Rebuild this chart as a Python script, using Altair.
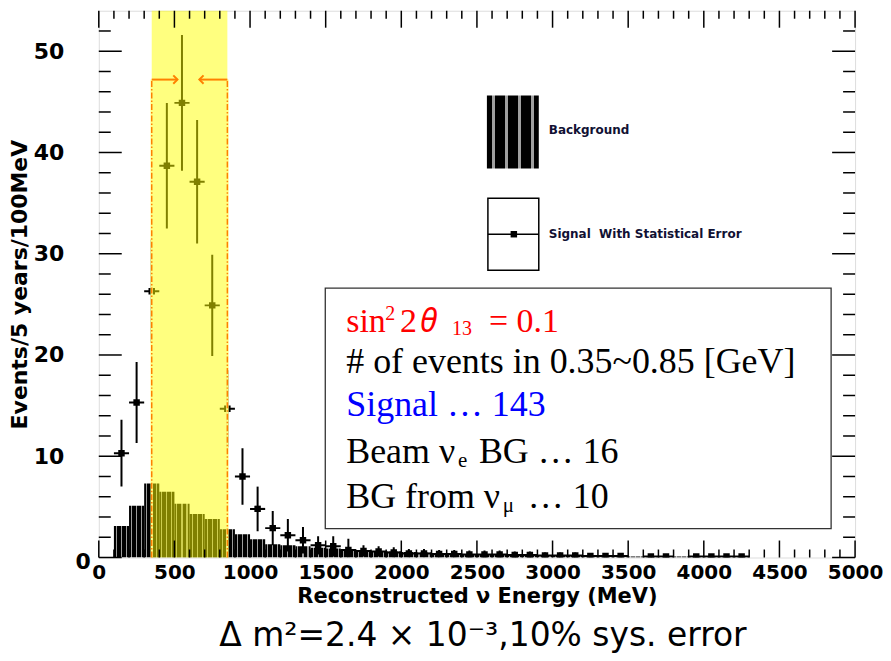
import altair as alt
import pandas as pd

# ---------------- data ----------------
bin_left = [100, 200, 300, 400, 500, 600, 700, 800, 900, 1000, 1100, 1200, 1300, 1400,
            1500, 1600, 1700, 1800, 1900, 2000, 2100, 2200, 2300, 2400, 2500, 2600, 2700,
            2800, 2900, 3000, 3100, 3200, 3300, 3400, 3500, 3600, 3700, 3800, 3900, 4000,
            4100, 4200]
bg_counts = [3.1, 5.1, 7.3, 6.5, 5.3, 4.3, 3.8, 2.8, 2.3, 1.8, 1.3, 1.2, 1.1, 0.95,
             0.9, 0.8, 0.75, 0.65, 0.6, 0.55, 0.5, 0.45, 0.4, 0.35, 0.3, 0.3, 0.25,
             0.25, 0.2, 0.2, 0.2, 0.15, 0.15, 0.15, 0.1, 0.1, 0.1, 0.1, 0.1, 0.1,
             0.1, 0.05]

sig_center = [150, 250, 350, 450, 550, 650, 750, 850, 950, 1050, 1150, 1250, 1350, 1450,
              1550, 1650, 1750, 1850, 1950, 2050, 2150, 2250, 2350, 2450, 2550, 2650,
              2750, 2850, 2950, 3050, 3150, 3250, 3350, 3450, 3650, 3750, 3950, 4050,
              4150, 4250]
sig_counts = [10.3, 15.3, 26.3, 38.7, 44.9, 37.1, 24.9, 14.7, 8.0, 4.8, 2.9, 2.2, 1.7, 1.2,
              1.1, 0.75, 0.65, 0.6, 0.5, 0.4, 0.4, 0.35, 0.35, 0.3, 0.3, 0.3,
              0.25, 0.25, 0.2, 0.2, 0.2, 0.15, 0.15, 0.15, 0.1, 0.1, 0.1, 0.1,
              0.1, 0.1]
sig_err = [3.3, 4.0, 5.1, 6.2, 6.7, 6.1, 5.0, 3.8, 2.8, 2.2, 1.7, 1.6, 1.3, 0.9,
           1.0, 1.1, 0.55, 0.5, 0.5, 0.45, 0.45, 0.4, 0.4, 0.4, 0.4, 0.4,
           0.35, 0.35, 0.3, 0.3, 0.3, 0.3, 0.3, 0.3, 0.25, 0.25, 0.25, 0.25,
           0.25, 0.25]

band_lo, band_hi = 350, 850
arrow_y = 47.2
arrow_tip_left = 520     # arrow pointing right, starting at band_lo
arrow_tip_right = 665    # arrow pointing left, starting at band_hi

x_major = [0, 500, 1000, 1500, 2000, 2500, 3000, 3500, 4000, 4500, 5000]
x_minor = [v for v in range(100, 5000, 100) if v % 500 != 0]
y_labels = [10, 20, 30, 40, 50]
y_major = [0, 10, 20, 30, 40, 50]
y_minor = [v for v in range(2, 54, 2) if v % 10 != 0]

# ---------------- layout ----------------
W, H = 758, 548
XS = alt.Scale(domain=[0, 5000], nice=False, zero=False)
YS = alt.Scale(domain=[0, 54], nice=False)
AXF = "DejaVu Sans"
SERIF = "Liberation Serif"

def stripes(n, frac=0.22, col="#9c9c9c"):
    stops = []
    step = 1.0 / n
    for i in range(n):
        a = i * step
        s0 = a + step * 0.5 - step * frac / 2
        s1 = a + step * 0.5 + step * frac / 2
        stops += [alt.GradientStop(color="#000000", offset=a),
                  alt.GradientStop(color="#000000", offset=s0),
                  alt.GradientStop(color=col, offset=s0),
                  alt.GradientStop(color=col, offset=s1),
                  alt.GradientStop(color="#000000", offset=s1)]
    stops.append(alt.GradientStop(color="#000000", offset=1))
    return alt.Gradient(gradient="linear", x1=0, x2=1, y1=0, y2=0, stops=stops)

bg_df = pd.DataFrame({"lo": bin_left, "hi": [b + 100 for b in bin_left],
                      "n": bg_counts, "zero": [0] * len(bin_left)})
sig_df = pd.DataFrame({"c": sig_center, "n": sig_counts, "e": sig_err})
sig_df["lo"] = (sig_df["n"] - sig_df["e"]).clip(lower=0)
sig_df["hi"] = sig_df["n"] + sig_df["e"]
sig_df["xl"] = sig_df["c"] - 50
sig_df["xr"] = sig_df["c"] + 50

xaxis = alt.Axis(values=x_major, ticks=False, domain=False, grid=False,
                 labelFont=AXF, labelFontWeight="bold", labelFontSize=20,
                 labelColor="black", labelPadding=5, labelFlush=False, labelOverlap=False,
                 format="d",
                 title="Reconstructed ν Energy (MeV)", titleFont=AXF, titleFontWeight="bold",
                 titleFontSize=21, titleColor="black", titlePadding=3)
yaxis = alt.Axis(values=y_labels, ticks=False, domain=False, grid=False,
                 labelFont=AXF, labelFontWeight="bold", labelFontSize=22,
                 labelColor="black", labelPadding=35, labelFlush=False, labelOverlap=False,
                 title="Events/5 years/100MeV", titleFont=AXF, titleFontWeight="bold",
                 titleFontSize=22, titleColor="black", titlePadding=2)

bars = alt.Chart(bg_df).mark_rect(fill=stripes(3), clip=True).encode(
    x=alt.X("lo:Q", scale=XS, axis=xaxis),
    x2="hi:Q",
    y=alt.Y("n:Q", scale=YS, axis=yaxis),
    y2="zero:Q",
)

sig = alt.Chart(sig_df)
vbar = sig.mark_rule(color="black", strokeWidth=2, clip=True).encode(
    x=alt.X("c:Q", scale=XS), y=alt.Y("lo:Q", scale=YS), y2="hi:Q")
hbar = sig.mark_rule(color="black", strokeWidth=2, clip=True).encode(
    x=alt.X("xl:Q", scale=XS), x2="xr:Q", y=alt.Y("n:Q", scale=YS))
pts = sig.mark_square(color="black", size=42, opacity=1, clip=True).encode(
    x=alt.X("c:Q", scale=XS), y=alt.Y("n:Q", scale=YS))

band_df = pd.DataFrame({"a": [band_lo], "b": [band_hi], "y0": [0], "y1": [54]})
band = alt.Chart(band_df).mark_rect(color="#ffff00", opacity=0.5).encode(
    x=alt.X("a:Q", scale=XS), x2="b:Q", y=alt.Y("y0:Q", scale=YS), y2="y1:Q")

edge_df = pd.DataFrame({"x": [band_lo, band_hi], "y0": [0, 0], "y1": [arrow_y, arrow_y]})
edge_cover = alt.Chart(edge_df).mark_rule(color="#ffff80", strokeWidth=2.5).encode(
    x=alt.X("x:Q", scale=XS), y=alt.Y("y0:Q", scale=YS), y2="y1:Q")
edges = alt.Chart(edge_df).mark_rule(color="#ff8000", strokeWidth=1.5,
                                      strokeDash=[6, 2, 1.5, 2]).encode(
    x=alt.X("x:Q", scale=XS), y=alt.Y("y0:Q", scale=YS), y2="y1:Q")

arr_df = pd.DataFrame({"x0": [band_lo, band_hi], "x1": [arrow_tip_left, arrow_tip_right],
                       "y": [arrow_y, arrow_y]})
arr_lines = alt.Chart(arr_df).mark_rule(color="#ff8000", strokeWidth=2).encode(
    x=alt.X("x0:Q", scale=XS), x2="x1:Q", y=alt.Y("y:Q", scale=YS))
head_r = alt.Chart(pd.DataFrame({"x": [arrow_tip_left], "y": [arrow_y]})).mark_point(
    shape="M -1 -1 L 0 0 L -1 1", filled=False, color="#ff8000", strokeWidth=2, size=70,
    opacity=1).encode(x=alt.X("x:Q", scale=XS), y=alt.Y("y:Q", scale=YS))
head_l = alt.Chart(pd.DataFrame({"x": [arrow_tip_right], "y": [arrow_y]})).mark_point(
    shape="M 1 -1 L 0 0 L 1 1", filled=False, color="#ff8000", strokeWidth=2, size=70,
    opacity=1).encode(x=alt.X("x:Q", scale=XS), y=alt.Y("y:Q", scale=YS))

# ticks (ROOT style: inside, mirrored)
def xticks(vals, length):
    d = alt.Chart(pd.DataFrame({"v": vals}))
    bot = d.mark_rule(color="black", strokeWidth=1.5).encode(
        x=alt.X("v:Q", scale=XS), y=alt.value(H), y2=alt.value(H - length))
    top = d.mark_rule(color="black", strokeWidth=1.5).encode(
        x=alt.X("v:Q", scale=XS), y=alt.value(0), y2=alt.value(length))
    return [bot, top]

def yticks(vals, length):
    d = alt.Chart(pd.DataFrame({"v": vals}))
    left = d.mark_rule(color="black", strokeWidth=1.5).encode(
        y=alt.Y("v:Q", scale=YS), x=alt.value(0), x2=alt.value(length))
    right = d.mark_rule(color="black", strokeWidth=1.5).encode(
        y=alt.Y("v:Q", scale=YS), x=alt.value(W), x2=alt.value(W - length))
    return [left, right]

ticks = xticks(x_major, 17) + xticks(x_minor, 8) + yticks(y_major, 23) + yticks(y_minor, 12)

one = alt.Data(values=[{}])

def txt(s, x, y, size, color="black", font=SERIF, weight="normal", align="left",
        baseline="alphabetic", style="normal"):
    return alt.Chart(one).mark_text(text=s, font=font, fontSize=size, color=color,
                                    fontWeight=weight, align=align, baseline=baseline,
                                    fontStyle=style).encode(
        x=alt.value(x), y=alt.value(y))

def box(x0, x1, y0, y1, fill="white", stroke="black", sw=1.5):
    return alt.Chart(one).mark_rect(fill=fill, stroke=stroke, strokeWidth=sw).encode(
        x=alt.value(x0), x2=alt.value(x1), y=alt.value(y0), y2=alt.value(y1))

# legend
leg_bg = alt.Chart(one).mark_rect(fill=stripes(4, 0.2, "#a0a0a0")).encode(
    x=alt.value(389), x2=alt.value(441), y=alt.value(85), y2=alt.value(158))
leg_sig_box = box(390, 441, 188, 260)
leg_sig_line = alt.Chart(one).mark_rule(color="black", strokeWidth=1.5).encode(
    x=alt.value(390), x2=alt.value(441), y=alt.value(224))
leg_sig_pt = alt.Chart(one).mark_square(color="black", size=42, opacity=1).encode(
    x=alt.value(416), y=alt.value(224))
leg_t1 = txt("Background", 451, 120, 12, color="#111133", font=AXF, weight="bold",
             baseline="middle")
leg_t2 = txt("Signal\u00a0 With Statistical Error", 451, 224, 12, color="#111133", font=AXF,
             weight="bold", baseline="middle")

# info box
info_box = box(227, 734, 278, 519, fill="white", stroke="#333333", sw=1.3)
FS = 36
SUB = 21
info = [
    txt("sin", 248, 322, 34, color="#ff0000"),
    txt("2", 287, 310, 20, color="#ff0000"),
    txt("2", 302, 322, 34, color="#ff0000"),
    txt("θ", 322, 322, 32, color="#ff0000", font="Noto Sans", style="italic"),
    txt("13", 354, 325, 20, color="#ff0000"),
    txt("= 0.1", 391, 322, 34, color="#ff0000"),
    txt("# of events in 0.35~0.85 [GeV]", 248, 363, FS),
    txt("Signal … 143", 248, 406, FS, color="#0000ff"),
    txt("Beam ν", 248, 453, FS),
    txt("e", 360, 457, SUB),
    txt("BG … 16", 381, 453, FS),
    txt("BG from ν", 248, 498, FS),
    txt("μ", 405, 502, SUB),
    txt("… 10", 430, 498, FS),
]

zero_lbl = txt("0", -8, 553, 22, font=AXF, weight="bold", align="right", baseline="middle")
caption = txt("Δ m²=2.4 × 10⁻³,10% sys. error", 385, 627, 33, font="DejaVu Sans",
              align="center", baseline="middle")

layers = [bars, vbar, hbar, pts, band, edge_cover, edges, arr_lines, head_r, head_l] + ticks + \
         [leg_bg, leg_sig_box, leg_sig_line, leg_sig_pt, leg_t1, leg_t2, info_box] + info + \
         [zero_lbl, caption]

chart = alt.layer(*layers).properties(
    width=W, height=H,
    autosize=alt.AutoSizeParams(type="none"),
    padding={"left": 91, "top": 2, "right": 28, "bottom": 101},
).configure_view(stroke="black", strokeWidth=2).configure(background="white")

chart.save("out.html", embed_options={"renderer": "svg", "actions": False})
